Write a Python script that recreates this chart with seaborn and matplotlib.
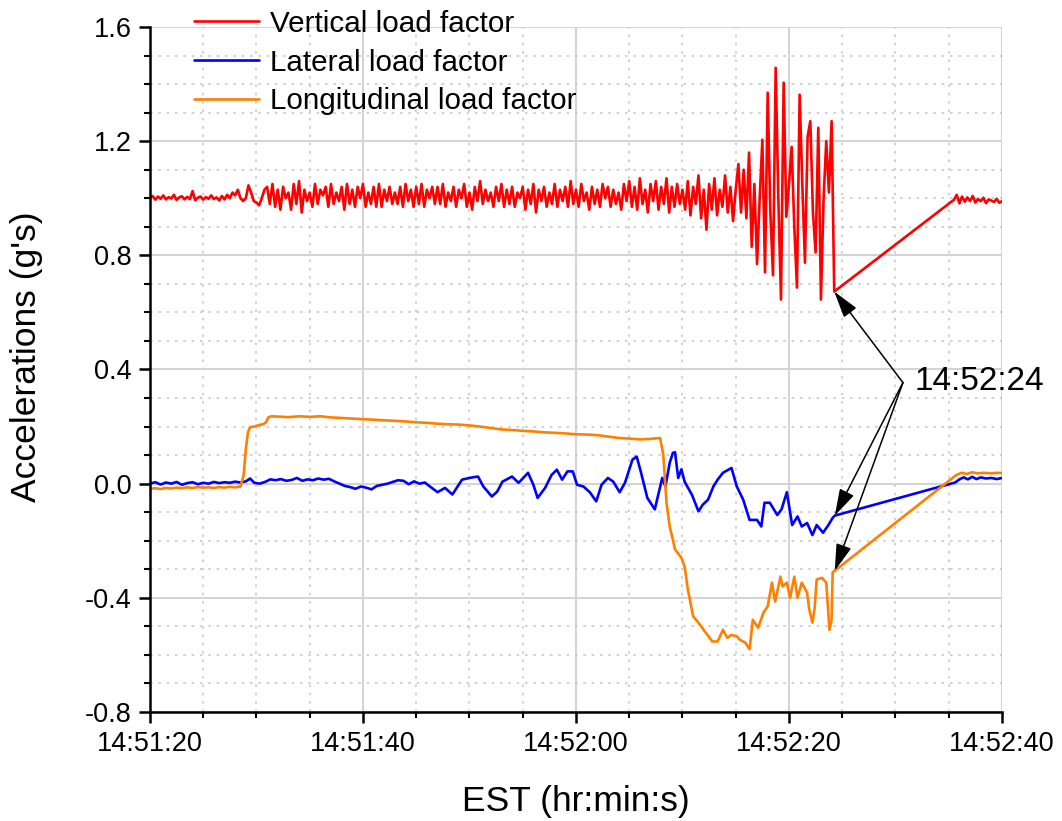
import numpy as np
import pandas as pd
import matplotlib
matplotlib.use("Agg")
import matplotlib.pyplot as plt
import seaborn as sns
from matplotlib.ticker import MultipleLocator, FixedLocator, FixedFormatter

# ---------------- data (time in s after 14:51:20) ----------------
x_ticks = [0, 20, 40, 60, 80]
x_labels = ["14:51:20", "14:51:40", "14:52:00", "14:52:20", "14:52:40"]
y_ticks = [-0.8, -0.4, 0.0, 0.4, 0.8, 1.2, 1.6]
y_labels = ["-0.8", "-0.4", "0.0", "0.4", "0.8", "1.2", "1.6"]
series_names = ["Vertical load factor", "Lateral load factor", "Longitudinal load factor"]
event_label = "14:52:24"

# vertical load factor, sampled every 0.25 s from 14:51:20
red_step = 0.25
red_dense = [
    1.000, 1.008, 0.995, 1.006, 0.998, 1.010, 0.996, 1.004,
    0.999, 1.012, 0.994, 1.003, 1.007, 0.996, 1.005, 0.997,
    1.025, 0.993, 1.002, 1.006, 0.995, 1.004, 0.998, 1.010,
    0.997, 1.003, 0.992, 1.008, 0.996, 1.012, 1.000, 1.020,
    1.01, 1.03, 1.00, 0.99, 1.00, 1.045, 1.02, 0.99,
    0.985, 0.975, 1.00, 1.03,
    1.04, 0.98, 1.05, 0.97, 1.03, 0.96, 1.04, 1.00, 1.02, 0.96, 1.05, 0.98, 1.06, 0.95, 1.03, 0.99,
    1.02, 0.97, 1.05, 0.98, 1.03, 1.01, 1.04, 0.97, 1.05, 0.98, 1.02, 0.99, 1.04, 0.96, 1.05, 0.98,
    1.03, 0.97, 1.04, 1.00, 1.05, 0.97, 1.02, 0.98, 1.04, 0.97, 1.05, 0.97, 1.03, 0.99, 1.04, 0.98,
    1.02, 0.98, 1.04, 0.97, 1.05, 0.99, 1.03, 0.97, 1.04, 0.98, 1.05, 0.97, 1.03, 1.00, 1.04, 0.98,
    1.04, 0.98, 1.05, 0.97, 1.02, 0.99, 1.04, 0.97, 1.03, 1.00, 1.05, 0.97, 1.02, 0.96, 1.04, 0.99,
    1.06, 0.98, 1.03, 0.99, 1.02, 0.97, 1.04, 0.99, 1.05, 0.97, 1.03, 0.98, 1.04, 0.97, 1.02, 1.00,
    1.04, 0.96, 1.03, 0.98, 1.05, 0.95, 1.03, 0.99, 1.04, 0.97, 1.02, 0.98, 1.05, 0.97, 1.03, 0.99,
    1.04, 0.97, 1.06, 0.98, 1.03, 0.97, 1.05, 0.99, 1.02, 0.96, 1.04, 0.98, 1.03, 0.97, 1.05, 1.00,
    1.04, 0.97, 1.03, 0.98, 1.02, 0.96, 1.05, 0.99,
    1.06, 0.97, 1.04, 0.96, 1.07, 0.98, 1.03, 0.95, 1.05, 0.99, 1.06, 0.96, 1.04, 0.98, 1.07, 0.95,
    1.04, 0.97, 1.05, 0.98, 1.03, 0.96, 1.06, 0.94, 1.04, 0.98, 1.08, 0.93, 1.03, 0.89, 1.05, 0.96,
    1.07, 0.94, 1.03, 0.97, 1.08, 0.95, 1.04, 0.92,
    1.03, 1.12, 0.95, 1.10, 0.93, 1.16, 0.83, 1.05, 0.77, 1.00, 1.205, 0.74, 1.37, 0.95, 0.73, 1.457,
    1.00, 0.645, 1.405, 0.935, 1.05, 1.18, 0.90, 0.687, 1.363, 1.05, 0.774, 1.216, 1.27, 0.95, 0.81, 1.247,
    0.645, 1.00, 1.20, 1.02, 1.27, 0.673,
]
red_tail_start = 75.5
red_tail = [0.995, 1.012, 0.982, 1.006, 0.988, 1.003, 0.990, 1.008, 0.985, 0.997,
            0.990, 1.002, 0.983, 0.996, 0.992, 0.987, 0.998, 0.984, 0.990]

# lateral load factor
blue_t = [0, 0.5, 1, 1.5, 2, 2.5, 3, 3.5, 4, 4.5, 5, 5.5, 6, 6.5, 7, 7.5, 8, 8.5, 9, 9.4, 9.8,
          10.3, 10.8, 11.3, 11.8, 12.3, 12.8, 13.3, 13.8, 14.3, 14.8, 15.3, 15.8, 16.3, 16.8,
          17.3, 17.8, 18.3, 18.8, 19.3, 19.8, 20.3, 20.8, 21.3, 21.8, 22.3, 22.8, 23.3, 23.8,
          24.3, 24.8, 25.3, 25.8, 26.3, 27.0, 27.7, 28.4, 29.3, 30.0, 30.8, 31.3, 32.1, 32.6,
          33.1, 34.0, 34.6, 34.9, 35.5, 36.0, 36.4, 37.1, 37.7, 38.2, 38.7, 39.2, 39.7, 40.1,
          40.7, 41.3, 41.9, 42.4, 43.0, 43.5, 44.1, 44.6, 45.3, 45.7, 46.1, 46.7, 47.4, 48.1,
          48.4, 48.8, 49.1, 49.3, 49.6, 49.9, 50.2, 50.9, 51.5, 51.9, 52.4, 52.9, 53.3, 53.8,
          54.6, 55.1, 55.7, 56.3, 57.0, 57.4, 57.7, 58.2, 58.9, 59.3, 59.8, 60.3, 60.8, 61.2,
          61.7, 62.2, 62.6, 63.2, 63.7, 64.1, 64.3,
          75.6, 76.0, 76.4, 76.8, 77.2, 77.6, 78.0, 78.5, 79.0, 79.5, 80.0]
blue_v = [0.0, 0.005, -0.003, 0.004, 0.0, 0.006, -0.004, 0.002, 0.005, -0.002, 0.003, 0.0, 0.006,
          0.002, 0.005, 0.003, 0.007, 0.004, 0.008, 0.018, 0.003,
          0.0, 0.006, 0.015, 0.012, 0.016, 0.010, 0.013, 0.020, 0.010, 0.015, 0.012, 0.018, 0.014, 0.017,
          0.008, 0.0, -0.008, -0.012, -0.018, -0.010, -0.014, -0.020, -0.008, -0.004, 0.0, 0.006, 0.012, 0.010,
          -0.002, 0.008, 0.0, 0.004, -0.010, -0.030, -0.015, -0.038, 0.014, 0.020, 0.025, -0.010, -0.045, -0.028,
          0.007, 0.025, 0.003, 0.014, 0.038, -0.004, -0.050, -0.015, 0.030, 0.049, 0.014, 0.043, 0.043, -0.004,
          -0.010, -0.030, -0.062, -0.004, 0.020, 0.007, -0.030, 0.003, 0.084, 0.095, 0.040, -0.050, -0.090, 0.020,
          -0.010, 0.073, 0.108, 0.110, 0.020, 0.050, 0.007, -0.040, -0.097, -0.074, -0.056, -0.010, 0.014, 0.038,
          0.055, -0.010, -0.056, -0.127, -0.127, -0.150, -0.067, -0.067, -0.110, -0.090, -0.030, -0.145, -0.115, -0.150,
          -0.138, -0.180, -0.145, -0.172, -0.145, -0.120, -0.112,
          0.004, 0.015, 0.022, 0.015, 0.024, 0.016, 0.022, 0.018, 0.020, 0.016, 0.020]

# longitudinal load factor
orange_t = [0, 0.5, 1, 1.5, 2, 2.5, 3, 3.5, 4, 4.5, 5, 5.5, 6, 6.5, 7, 7.5, 8, 8.5,
            8.8, 9.0, 9.2, 9.4, 9.8, 10.2, 10.6, 10.9, 11.1, 11.4,
            12, 13, 14, 15, 16, 17, 18, 19, 20, 21, 22, 23, 24, 25, 26, 27, 28, 29, 30,
            31, 32, 33, 34, 35, 36, 37, 38, 39, 40, 41, 42, 43, 44, 45, 46, 47,
            47.9, 48.2, 48.5, 48.8, 49.3, 49.9, 50.2, 50.5, 51.0, 51.5, 52.1, 52.8, 53.3,
            53.8, 54.2, 54.6, 55.1, 55.4, 55.9, 56.3, 56.6, 57.1, 57.6, 58.0, 58.4, 58.7,
            59.2, 59.4, 59.8, 60.1, 60.5, 60.8, 61.2, 61.7, 61.9, 62.2, 62.4, 62.6, 63.1,
            63.5, 63.8, 64.0, 64.1, 64.3,
            75.7, 76.2, 76.7, 77.2, 77.7, 78.3, 79.0, 79.5, 80.0]
orange_v = [-0.018, -0.016, -0.019, -0.015, -0.017, -0.014, -0.016, -0.013, -0.015, -0.012,
            -0.014, -0.013, -0.015, -0.012, -0.014, -0.011, -0.013, -0.010,
            0.030, 0.120, 0.180, 0.198, 0.200, 0.205, 0.208, 0.215, 0.232, 0.236,
            0.235, 0.233, 0.236, 0.234, 0.236, 0.232, 0.230, 0.228, 0.226, 0.224, 0.222, 0.220,
            0.218, 0.215, 0.213, 0.210, 0.208, 0.207, 0.204, 0.200, 0.195, 0.190, 0.188, 0.185,
            0.183, 0.180, 0.178, 0.176, 0.173, 0.172, 0.170, 0.165, 0.160, 0.158, 0.155, 0.157,
            0.160, 0.100, -0.067, -0.150, -0.230, -0.260, -0.290, -0.370, -0.465, -0.487, -0.518, -0.553, -0.553,
            -0.512, -0.540, -0.530, -0.535, -0.547, -0.557, -0.580, -0.477, -0.505, -0.452, -0.430, -0.347, -0.413,
            -0.326, -0.360, -0.347, -0.400, -0.326, -0.400, -0.347, -0.382, -0.440, -0.487, -0.440, -0.336, -0.330,
            -0.347, -0.512, -0.477, -0.310, -0.305,
            0.030, 0.038, 0.034, 0.040, 0.036, 0.038, 0.036, 0.038, 0.037]

# ---------------- build frames ----------------
red_t = np.concatenate([np.arange(len(red_dense)) * red_step,
                        red_tail_start + np.arange(len(red_tail)) * red_step])
df_red = pd.DataFrame({"t": red_t, "v": red_dense + red_tail})
df_blue = pd.DataFrame({"t": blue_t, "v": blue_v})
df_orange = pd.DataFrame({"t": orange_t, "v": orange_v})

# ---------------- style ----------------
sns.set_theme(style="ticks")
plt.rcParams["font.family"] = ["Liberation Sans", "DejaVu Sans"]
plt.rcParams["axes.unicode_minus"] = False
plt.rcParams["text.color"] = "black"
plt.rcParams["axes.labelcolor"] = "black"
plt.rcParams["xtick.color"] = "black"
plt.rcParams["ytick.color"] = "black"

fig = plt.figure(figsize=(10.62, 8.21), dpi=100)
ax = fig.add_axes([0.1412, 0.1328, 0.8023, 0.8343])

colors = ["#ff0000", "#0000ff", "#ff8000"]
for df, c, name in zip([df_red, df_blue, df_orange], colors, series_names):
    sns.lineplot(data=df, x="t", y="v", color=c, lw=1.9, ax=ax, label=name,
                 estimator=None, sort=False)

ax.set_xlim(0, 80)
ax.set_ylim(-0.8, 1.6)
ax.xaxis.set_major_locator(FixedLocator(x_ticks))
ax.xaxis.set_major_formatter(FixedFormatter(x_labels))
ax.xaxis.set_minor_locator(MultipleLocator(5))
ax.yaxis.set_major_locator(FixedLocator(y_ticks))
ax.yaxis.set_major_formatter(FixedFormatter(y_labels))
ax.yaxis.set_minor_locator(MultipleLocator(0.1))

ax.set_axisbelow(True)
ax.grid(which="major", color="#d4d4d4", lw=1.5, ls="-")
ax.grid(which="minor", color="#c8c8c8", lw=1.2, ls=(0, (1.5, 3.5)))

for s in ["top", "right"]:
    ax.spines[s].set_visible(False)
for s in ["left", "bottom"]:
    ax.spines[s].set_linewidth(1.8)
    ax.spines[s].set_color("black")

ax.tick_params(which="major", direction="out", length=8, width=1.8, labelsize=19.5,
               color="black", labelcolor="black")
ax.tick_params(axis="y", which="major", pad=5)
ax.tick_params(axis="x", which="major", pad=6)
ax.tick_params(which="minor", direction="out", length=4.5, width=1.5, color="black")

ax.set_xlabel("EST (hr:min:s)", fontsize=25.5, labelpad=20, color="black")
ax.set_ylabel("Accelerations (g's)", fontsize=25.5, color="black")
ax.yaxis.set_label_coords(-0.1256, 0.518)

leg = ax.legend(loc="upper left", bbox_to_anchor=(0.183, 0.988), bbox_transform=fig.transFigure,
                frameon=False, fontsize=21.3, handlelength=2.2, handletextpad=0.35,
                labelspacing=0.36, borderpad=0, borderaxespad=0)
for line in leg.get_lines():
    line.set_linewidth(1.9)

# ---------------- annotation ----------------
targets = [(red_t[len(red_dense) - 1], red_dense[-1]),
           (blue_t[blue_t.index(64.3)], blue_v[blue_t.index(64.3)]),
           (orange_t[orange_t.index(64.3)], orange_v[orange_t.index(64.3)])]
tail = (70.7, 0.354)
for tx, ty in targets:
    ax.annotate("", xy=(tx, ty), xytext=tail,
                arrowprops=dict(arrowstyle="-|>,head_length=0.75,head_width=0.22",
                                mutation_scale=22, color="black", lw=1.1,
                                shrinkA=0, shrinkB=0),
                annotation_clip=False)
ax.text(71.8, 0.357, event_label, fontsize=24, va="center", ha="left", clip_on=False)

fig.savefig("out.png", dpi=100)
